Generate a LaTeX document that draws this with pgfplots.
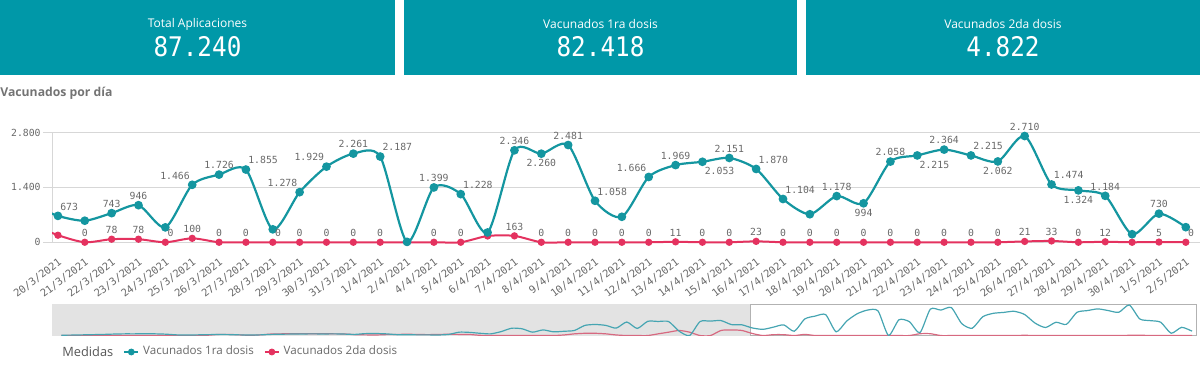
\documentclass[border=0pt]{standalone}
\usepackage{pgfplots}
\pgfplotsset{compat=1.18}
\usepackage{pgfplotstable}
\usepackage{fontspec}
\setmainfont{Open Sans}
\newfontfamily\monof{DejaVu Sans Mono}
\definecolor{kpi}{RGB}{0,152,168}
\definecolor{cblue}{RGB}{20,150,160}
\definecolor{cred}{RGB}{228,50,95}
\definecolor{mblue}{RGB}{70,165,178}
\definecolor{mred}{RGB}{215,105,128}
\definecolor{lbl}{RGB}{105,105,105}
\definecolor{gridc}{RGB}{215,215,215}

\pgfplotstableread{
i b r
-66 30 0
-65 40 0
-64 60 0
-63 80 0
-62 100 0
-61 130 0
-60 150 0
-59 150 0
-58 160 0
-57 150 0
-56 120 0
-55 60 0
-54 40 0
-53 60 0
-52 80 30
-51 90 100
-50 80 100
-49 60 60
-48 50 20
-47 60 60
-46 100 130
-45 120 150
-44 130 160
-43 140 170
-42 150 160
-41 140 170
-40 150 150
-39 130 140
-38 100 80
-37 170 60
-36 180 50
-35 150 80
-34 80 100
-33 70 110
-32 60 100
-31 60 80
-30 50 100
-29 100 110
-28 300 100
-27 280 90
-26 200 20
-25 150 0
-24 350 0
-23 650 0
-22 600 0
-21 300 0
-20 500 0
-19 330 0
-18 380 50
-17 450 150
-16 900 200
-15 980 200
-14 900 150
-13 660 50
-12 1200 0
-11 630 0
-10 1260 0
-9 1250 150
-8 1240 300
-7 390 450
-6 0 300
-5 1240 0
-4 1280 0
-3 1330 450
-2 970 500
-1 950 450
0 673 180
1 550 0
2 743 78
3 946 78
4 380 0
5 1466 100
6 1726 0
7 1855 0
8 330 0
9 1278 0
10 1929 0
11 2261 0
12 2187 0
13 10 0
14 1399 0
15 1228 0
16 250 160
17 2346 163
18 2260 0
19 2481 0
20 1058 0
21 650 0
22 1666 0
23 1969 11
24 2053 0
25 2151 0
26 1870 23
27 1104 0
28 715 0
29 1178 0
30 994 0
31 2058 0
32 2215 0
33 2364 0
34 2215 0
35 2062 0
36 2710 21
37 1474 33
38 1324 0
39 1184 12
40 205 0
41 730 5
42 385 0
}\vacdata

% blue labels, grouped by placement
\pgfplotstableread{
i v l
2 743 743
3 946 946
6 1726 1.726
11 2261 2.261
14 1399 1.399
17 2346 2.346
19 2481 2.481
23 1969 1.969
25 2151 2.151
29 1178 1.178
31 2058 2.058
33 2364 2.364
36 2710 2.710
39 1184 1.184
41 730 730
}\blueS
\pgfplotstableread{
i v l
0 673 673
7 1855 1.855
12 2187 2.187
15 1228 1.228
20 1058 1.058
26 1870 1.870
27 1104 1.104
34 2215 2.215
37 1474 1.474
}\blueSW
\pgfplotstableread{
i v l
5 1466 1.466
9 1278 1.278
10 1929 1.929
22 1666 1.666
}\blueSE
\pgfplotstableread{
i v l
18 2260 2.260
30 994 994
35 2062 2.062
38 1324 1.324
}\blueN
\pgfplotstableread{
i v l
24 2053 2.053
32 2215 2.215
}\blueNW
% red labels
\pgfplotstableread{
i v l
1 0 0
2 78 78
3 78 78
5 100 100
6 0 0
7 0 0
9 0 0
10 0 0
11 0 0
12 0 0
14 0 0
15 0 0
17 163 163
18 0 0
19 0 0
20 0 0
21 0 0
22 0 0
23 11 11
24 0 0
25 0 0
26 23 23
27 0 0
28 0 0
29 0 0
30 0 0
31 0 0
32 0 0
33 0 0
34 0 0
35 0 0
36 21 21
37 33 33
38 0 0
39 12 12
41 5 5
}\redS
\pgfplotstableread{
i v l
4 0 0
8 0 0
42 0 0
}\redSW

\begin{document}
\begin{tikzpicture}
\useasboundingbox (0,0) rectangle (600pt,189.5pt);
% KPI tiles
\fill[kpi] (0,152pt) rectangle (197.5pt,189.5pt);
\fill[kpi] (202pt,152pt) rectangle (398.5pt,189.5pt);
\fill[kpi] (403pt,152pt) rectangle (600pt,189.5pt);
\tikzset{kt/.style={text=white,font=\fontsize{6}{7}\selectfont,inner sep=0pt},
         kv/.style={text=white,font=\monof\fontsize{13.5}{15}\selectfont,xscale=0.9,inner sep=0pt}}
\node[kt] at (98.75pt,177.5pt) {Total Aplicaciones};
\node[kv] at (98.75pt,166pt) {87.240};
\node[kt] at (300.25pt,177.5pt) {Vacunados 1ra dosis};
\node[kv] at (300.25pt,166pt) {82.418};
\node[kt] at (501.5pt,177.5pt) {Vacunados 2da dosis};
\node[kv] at (501.5pt,166pt) {4.822};
\node[anchor=west,inner sep=0pt,text={rgb,255:red,115;green,115;blue,115},font=\bfseries\fontsize{6.1}{7}\selectfont] at (0pt,143pt) {Vacunados por día};

% main chart
\begin{axis}[
  at={(26pt,66.8pt)}, anchor=south west, scale only axis,
  width=574pt, height=63.3pt,
  xmin=-0.22, xmax=42.53, ymin=-80, ymax=3150,
  axis line style={draw=none},
  xtick={0,...,42},
  xticklabels={20/3/2021,21/3/2021,22/3/2021,23/3/2021,24/3/2021,25/3/2021,26/3/2021,27/3/2021,28/3/2021,29/3/2021,30/3/2021,31/3/2021,1/4/2021,2/4/2021,4/4/2021,5/4/2021,6/4/2021,7/4/2021,8/4/2021,9/4/2021,10/4/2021,11/4/2021,12/4/2021,13/4/2021,14/4/2021,15/4/2021,16/4/2021,17/4/2021,18/4/2021,19/4/2021,20/4/2021,21/4/2021,22/4/2021,23/4/2021,24/4/2021,25/4/2021,26/4/2021,27/4/2021,28/4/2021,29/4/2021,30/4/2021,1/5/2021,2/5/2021},
  x tick label style={rotate=37, anchor=north east, font=\monof\fontsize{5.2}{6}\selectfont, text=lbl, inner sep=1pt},
  xtick style={draw=none},
  ytick={0,1400,2800}, yticklabels={0,1.400,2.800},
  y tick label style={font=\monof\fontsize{4.9}{6}\selectfont, text=lbl, inner sep=1pt},
  ytick style={draw=gridc, line width=0.5pt},
  tick align=outside, ytick pos=left, xtick pos=bottom, major tick length=4.5pt,
  ymajorgrids, grid style={gridc, line width=0.5pt},
  lblS/.style={draw=none, nodes near coords, point meta=explicit symbolic,
    every node near coord/.append style={anchor=#1, font=\monof\fontsize{4.9}{6}\selectfont, text=lbl, inner xsep=1pt, inner ysep=2.6pt}},
]
\draw[gridc, line width=0.5pt] (axis cs:-0.21,0) -- (axis cs:-0.21,2800);
\addplot[cred, line width=1pt, smooth, tension=0.45, mark=*, mark size=1.3pt, mark options={fill=cred, draw=cred}] table[x=i,y=r] {\vacdata};
\addplot[cblue, line width=1.1pt, smooth, tension=0.45, mark=*, mark size=1.6pt, mark options={fill=cblue, draw=cblue}] table[x=i,y=b] {\vacdata};
\addplot[lblS=south] table[x=i,y=v,meta=l] {\blueS};
\addplot[lblS=south west] table[x=i,y=v,meta=l] {\blueSW};
\addplot[lblS=south east] table[x=i,y=v,meta=l] {\blueSE};
\addplot[lblS=north] table[x=i,y=v,meta=l] {\blueN};
\addplot[lblS=north west] table[x=i,y=v,meta=l] {\blueNW};
\addplot[lblS=south] table[x=i,y=v,meta=l] {\redS};
\addplot[lblS=south west] table[x=i,y=v,meta=l] {\redSW};
\end{axis}

% overview / range selector
\begin{axis}[
  at={(26pt,21.5pt)}, anchor=south west, scale only axis,
  width=572.5pt, height=16pt,
  xmin=-66.9, xmax=42.47, ymin=-40, ymax=2800,
  axis lines=none,
  legend style={at={(0.0568,-0.5)}, anchor=west, draw=none, fill=none,
    legend columns=-1, font=\fontsize{5.8}{7}\selectfont, text=lbl,
    /tikz/every even column/.append style={column sep=3pt}},
  legend image code/.code={\draw[#1, line width=0.9pt] (0pt,0pt) -- (7pt,0pt); \fill[#1] (3.5pt,0pt) circle (1.5pt);},
]
\fill[black!11] (axis cs:-66.9,-40) rectangle (axis cs:-0.22,2800);
\draw[black!30, line width=0.5pt] (axis cs:-0.2,-30) rectangle (axis cs:42.44,2790);
\addplot[mred, line width=0.6pt, smooth, tension=0.4, forget plot] table[x=i,y=r] {\vacdata};
\addplot[mblue, line width=0.6pt, smooth, tension=0.4, forget plot] table[x=i,y=b] {\vacdata};
\addlegendimage{cblue}\addlegendentry{Vacunados 1ra dosis}
\addlegendimage{cred}\addlegendentry{Vacunados 2da dosis}
\end{axis}
\node[anchor=west,inner sep=0pt,text={rgb,255:red,85;green,85;blue,85},font=\fontsize{6.4}{7}\selectfont] at (31pt,13.5pt) {Medidas};
\end{tikzpicture}
\end{document}
